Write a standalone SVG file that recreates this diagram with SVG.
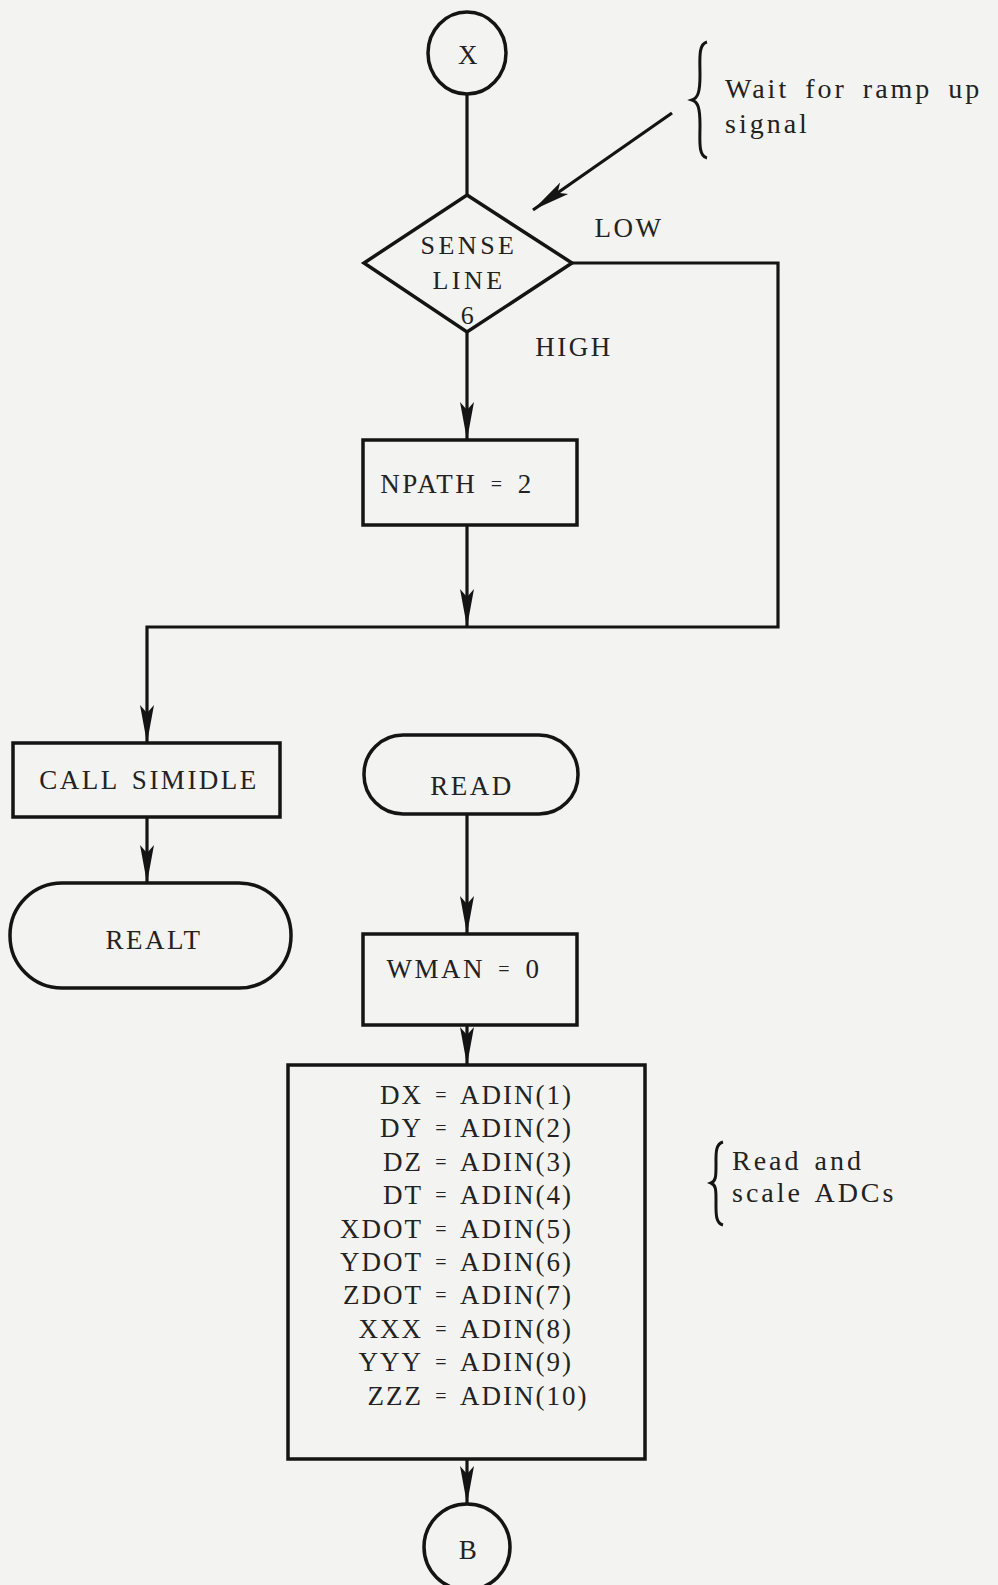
<svg xmlns="http://www.w3.org/2000/svg" width="998" height="1585" viewBox="0 0 998 1585">
<defs>
<style>
.bg{fill:#f3f3f1}
.shape{fill:none;stroke:#141414;stroke-width:3.5}
.line{fill:none;stroke:#141414;stroke-width:3.2}
.t{font-family:"Liberation Serif","DejaVu Serif",serif;font-size:27px;letter-spacing:2.5px;word-spacing:4px;fill:#222;dominant-baseline:central}
.c{text-anchor:middle}
.e{text-anchor:end}
.s{font-size:26px;letter-spacing:3.5px}
.m{letter-spacing:2px;word-spacing:0}
.eq{font-size:20px}
.note{font-family:"Liberation Serif","DejaVu Serif",serif;font-size:28px;letter-spacing:3px;word-spacing:6px;fill:#222;dominant-baseline:central}
.brace{fill:none;stroke:#141414;stroke-width:3}
</style>
<marker id="arr" markerUnits="userSpaceOnUse" markerWidth="40" markerHeight="18" viewBox="0 0 40 18" refX="38" refY="9" orient="auto">
<path d="M0,2 L38,9 L0,16 L8,9 Z" fill="#141414"/>
</marker>
</defs>
<rect class="bg" x="0" y="0" width="998" height="1585"/>

<g id="connectors">
<line class="line" x1="467" y1="94" x2="467" y2="195"/>
<line class="line" x1="467" y1="332" x2="467" y2="440" marker-end="url(#arr)"/>
<line class="line" x1="467" y1="525" x2="467" y2="627" marker-end="url(#arr)"/>
<polyline class="line" points="572,263 778,263 778,627 147,627 147,743" marker-end="url(#arr)"/>
<line class="line" x1="147" y1="817" x2="147" y2="883" marker-end="url(#arr)"/>
<line class="line" x1="467" y1="814" x2="467" y2="934" marker-end="url(#arr)"/>
<line class="line" x1="467" y1="1025" x2="467" y2="1065" marker-end="url(#arr)"/>
<line class="line" x1="467" y1="1459" x2="467" y2="1504" marker-end="url(#arr)"/>
<line class="line" x1="672" y1="113" x2="533" y2="210" marker-end="url(#arr)"/>
<text class="t c" x="629" y="228">LOW</text>
<text class="t c" x="574" y="347">HIGH</text>
</g>

<g id="node-x">
<ellipse class="shape" cx="467" cy="53" rx="39" ry="41"/>
<text class="t c" x="469" y="55">X</text>
</g>

<g id="note-wait">
<path class="brace" d="M707,42 C698,44 700,60 700,75 C700,92 698,98 692,100 C698,102 700,108 700,125 C700,140 698,156 707,158"/>
<text class="note" x="725" y="88">Wait for ramp up</text>
<text class="note" x="725" y="123">signal</text>
</g>

<g id="node-sense">
<polygon class="shape" points="467,195 572,263 467,332 364,263"/>
<text class="t c s" x="469" y="245">SENSE</text>
<text class="t c s" x="469" y="280">LINE</text>
<text class="t c s" x="469" y="315">6</text>
</g>

<g id="node-npath">
<rect class="shape" x="363" y="440" width="214" height="85"/>
<text class="t c" x="457" y="484">NPATH <tspan class="eq">=</tspan> 2</text>
</g>

<g id="node-call">
<rect class="shape" x="13" y="743" width="267" height="74"/>
<text class="t c" x="149" y="780">CALL SIMIDLE</text>
</g>

<g id="node-realt">
<rect class="shape" x="10" y="883" width="281" height="105" rx="52" ry="52"/>
<text class="t c" x="154" y="940">REALT</text>
</g>

<g id="node-read">
<rect class="shape" x="364" y="735" width="214" height="79" rx="39" ry="39"/>
<text class="t c" x="472" y="786">READ</text>
</g>

<g id="node-wman">
<rect class="shape" x="363" y="934" width="214" height="91"/>
<text class="t c" x="464" y="969">WMAN <tspan class="eq">=</tspan> 0</text>
</g>

<g id="node-adin">
<rect class="shape" x="288" y="1065" width="357" height="394"/>
<text class="t m e" x="423" y="1095">DX</text><text class="t m c eq" x="442" y="1095">=</text><text class="t m" x="460" y="1095">ADIN(1)</text>
<text class="t m e" x="423" y="1128">DY</text><text class="t m c eq" x="442" y="1128">=</text><text class="t m" x="460" y="1128">ADIN(2)</text>
<text class="t m e" x="423" y="1162">DZ</text><text class="t m c eq" x="442" y="1162">=</text><text class="t m" x="460" y="1162">ADIN(3)</text>
<text class="t m e" x="423" y="1195">DT</text><text class="t m c eq" x="442" y="1195">=</text><text class="t m" x="460" y="1195">ADIN(4)</text>
<text class="t m e" x="423" y="1229">XDOT</text><text class="t m c eq" x="442" y="1229">=</text><text class="t m" x="460" y="1229">ADIN(5)</text>
<text class="t m e" x="423" y="1262">YDOT</text><text class="t m c eq" x="442" y="1262">=</text><text class="t m" x="460" y="1262">ADIN(6)</text>
<text class="t m e" x="423" y="1295">ZDOT</text><text class="t m c eq" x="442" y="1295">=</text><text class="t m" x="460" y="1295">ADIN(7)</text>
<text class="t m e" x="423" y="1329">XXX</text><text class="t m c eq" x="442" y="1329">=</text><text class="t m" x="460" y="1329">ADIN(8)</text>
<text class="t m e" x="423" y="1362">YYY</text><text class="t m c eq" x="442" y="1362">=</text><text class="t m" x="460" y="1362">ADIN(9)</text>
<text class="t m e" x="423" y="1396">ZZZ</text><text class="t m c eq" x="442" y="1396">=</text><text class="t m" x="460" y="1396">ADIN(10)</text>
</g>

<g id="note-read">
<path class="brace" d="M723,1142 C715,1144 716,1155 716,1165 C716,1176 716,1181 711,1183 C716,1185 716,1190 716,1200 C716,1212 715,1223 723,1225"/>
<text class="note" x="732" y="1160" style="word-spacing:3px">Read and</text>
<text class="note" x="732" y="1192" style="word-spacing:3px">scale ADCs</text>
</g>

<g id="node-b">
<circle class="shape" cx="467" cy="1547" r="43"/>
<text class="t c" x="469" y="1550">B</text>
</g>
</svg>
